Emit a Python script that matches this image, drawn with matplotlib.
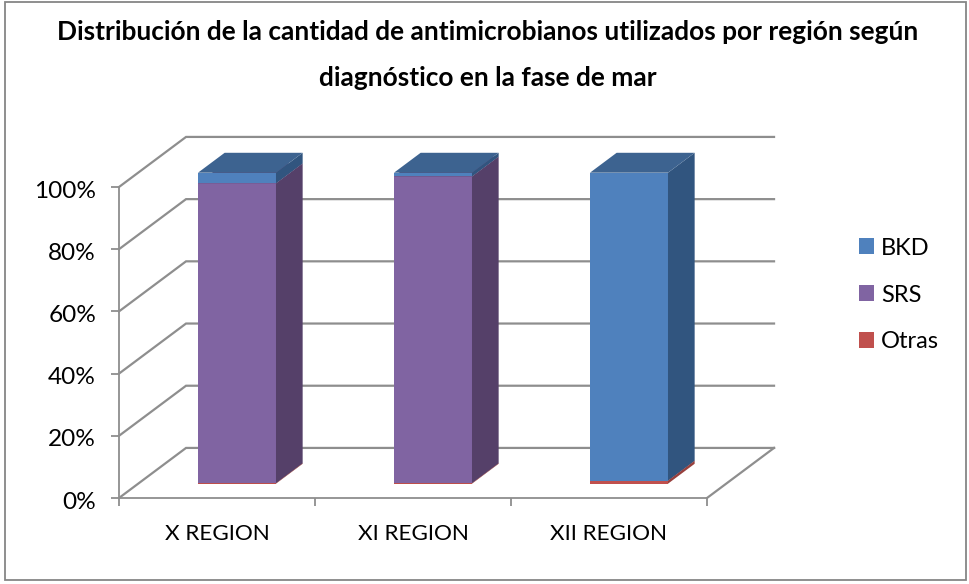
# -*- coding: utf-8 -*-
import matplotlib
matplotlib.use('Agg')
import matplotlib.pyplot as plt
from matplotlib.patches import Patch, Rectangle
from matplotlib.transforms import ScaledTranslation

plt.rcParams['font.family'] = ['Lato', 'DejaVu Sans']

# Data
regions = ['X REGION', 'XI REGION', 'XII REGION']
otras = [0.2, 0.2, 1.0]
srs = [96.4, 98.6, 0.0]
bkd = [3.4, 1.2, 99.0]
y_ticks = [0, 20, 40, 60, 80, 100]

title = 'Distribución de la cantidad de antimicrobianos utilizados por región según\ndiagnóstico en la fase de mar'

# Colours: front, side, top
series = [
    ('Otras', otras, '#C0504D', '#98403D', '#98403D'),
    ('SRS', srs, '#8064A2', '#554069', '#604C7A'),
    ('BKD', bkd, '#4F81BD', '#31557F', '#3D6390'),
]
grid_col = '#8E8E8E'

W, H = 969, 584
fig = plt.figure(figsize=(W / 100, H / 100), dpi=100)

# Chart frame
fig.add_artist(Rectangle((5 / W, 1 - 580 / H), 961 / W, 578 / H, transform=fig.transFigure,
                         fill=False, edgecolor='#868686', linewidth=1.3))

# Axes = front plane of the fake 3D box
ax = fig.add_axes([119 / W, 1 - 498 / H, 588 / W, 311 / H])
ax.set_xlim(0, 3)
ax.set_ylim(0, 100)
ax.patch.set_alpha(0)

# Depth of the box, and of the bars, in data units
dx, dy = 0.342, 16.1
bar_off_x, bar_off_y = 0.102, 4.6
bar_dx, bar_dy = 0.136, 6.4
bar_w = 0.398


def poly(xs, ys, col, z):
    ax.fill(xs, ys, facecolor=col, edgecolor='none', clip_on=False, zorder=z)


# Back wall, side wall and floor lines
for v in y_ticks:
    ax.plot([0, dx, 3 + dx], [v, v + dy, v + dy], color=grid_col, lw=1.6,
            clip_on=False, zorder=1, solid_joinstyle='miter')
ax.plot([3, 3 + dx], [0, dy], color=grid_col, lw=1.6, clip_on=False, zorder=1)

# Stacked bars
for i in range(len(regions)):
    bottom = 0
    x0 = i + 0.5 - bar_w / 2 + bar_off_x
    x1 = x0 + bar_w
    for name, vals, front, side, top in series:
        v = vals[i]
        if v > 0:
            y0 = bottom + bar_off_y
            y1 = y0 + v
            poly([x0, x1, x1, x0], [y0, y0, y1, y1], front, 3)
            poly([x1, x1 + bar_dx, x1 + bar_dx, x1],
                 [y0, y0 + bar_dy, y1 + bar_dy, y1], side, 3)
            poly([x0, x1, x1 + bar_dx, x0 + bar_dx],
                 [y1, y1, y1 + bar_dy, y1 + bar_dy], top, 3)
        bottom += v

# Axes and ticks
for s in ['top', 'right']:
    ax.spines[s].set_visible(False)
for s in ['left', 'bottom']:
    ax.spines[s].set_color(grid_col)
    ax.spines[s].set_linewidth(1.3)
ax.set_yticks(y_ticks)
ax.set_yticklabels([str(v) + '%' for v in y_ticks], fontsize=17.6, color='black')
ax.set_xticks(range(4))
ax.set_xticklabels([])
ax.set_xticks([i + 0.5 for i in range(3)], labels=regions, minor=True, fontsize=16.2)
ax.tick_params(axis='x', which='major', length=6, width=1.3, color=grid_col)
ax.tick_params(axis='x', which='minor', length=0, pad=19)
ax.tick_params(axis='y', length=6, width=1.3, color=grid_col, pad=10.5)

# y labels sit a little lower than the ticks in the original
shift = ScaledTranslation(0, -1.5 / 72, fig.dpi_scale_trans)
for lab in ax.get_yticklabels():
    lab.set_transform(lab.get_transform() + shift)

fig.text(488 / W, 1 - 55 / H, title, ha='center', va='center', fontsize=18.9,
         fontweight='bold', linespacing=2.07)

handles = [Patch(facecolor=s[2], label=s[0]) for s in reversed(series)]
ax.legend(handles=handles, loc='center left', bbox_to_anchor=(859 / W, 1 - 295 / H),
          bbox_transform=fig.transFigure, frameon=False, fontsize=17,
          handlelength=0.63, handleheight=0.63, handletextpad=0.3, labelspacing=1.1,
          borderpad=0, borderaxespad=0)

fig.savefig('out.png', dpi=100)
